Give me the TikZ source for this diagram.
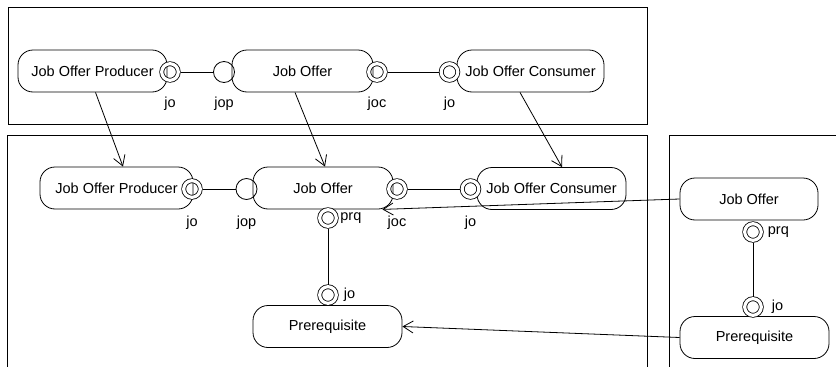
\documentclass[tikz,border=0pt]{standalone}
\usepackage{fontspec}
\setmainfont{Liberation Sans}
\usepackage{tikz}
\usetikzlibrary{positioning, arrows.meta, calc}

\begin{document}
\begin{tikzpicture}[x=1pt, y=-1pt, line width=0.8pt,
    font=\fontsize{14.5}{17}\selectfont,
    comp/.style={draw, rounded corners=15pt, minimum width=149pt,
        minimum height=42pt, inner sep=0pt},
    prov/.style={draw, circle, double, double distance=3.2pt,
        minimum size=16.6pt, inner sep=0pt, outer sep=2.2pt},
    req/.style={draw, circle, minimum size=21pt, inner sep=0pt},
    lbl/.style={inner sep=0pt},
    dep/.style={-{Straight Barb[length=10pt, width=12pt]}}]
\useasboundingbox (0,0) rectangle (836,367);
\clip (0,0) rectangle (836,367);

% frames
\foreach \xa/\ya/\xb/\yb in {8/7/647/124, 7/135/647/390, 669/135/860/390}
    \draw (\xa,\ya) rectangle (\xb,\yb);

% top row
\node[comp] (prodA) at (92.5,71) {Job Offer Producer};
\node[comp, minimum width=141pt] (offerA) at (302.5,71) {Job Offer};
\node[comp, minimum width=147pt] (consA) at (530.5,71) {Job Offer Consumer};

\node[prov] (joA) at (170,72) {};
\node[req] (jopA) at (224,72) {};
\node[prov] (jocA) at (377,72) {};
\node[prov] (joConsA) at (449.5,72) {};
\draw (joA) -- (jopA);
\draw (jocA) -- (joConsA);

\node[lbl, below=14.5pt of joA] (joAl) {jo};
\node[lbl, below=14pt of jopA] (jopAl) {jop};
\node[lbl, below=14.5pt of jocA] (jocAl) {joc};
\node[lbl, below=14.5pt of joConsA] (joConsAl) {jo};

% middle row
\node[comp, minimum width=153pt] (prodB) at (116.5,188) {Job Offer Producer};
\node[comp, minimum width=140pt] (offerB) at (323,188) {Job Offer};
\node[comp] (consB) at (551.5,188.5) {Job Offer Consumer};
\node[comp] (preB) at (327.5,326.5) {Prerequisite};

\node[prov] (joB) at (192,189) {};
\node[req] (jopB) at (246.5,189) {};
\node[prov] (jocB) at (397,189) {};
\node[prov] (joConsB) at (470.5,189) {};
\node[prov] (prqB) at (328,218) {};
\node[prov] (joPreB) at (328,295) {};
\draw (joB) -- (jopB);
\draw (jocB) -- (joConsB);
\draw (prqB) -- (joPreB);

\node[lbl, below=16pt of joB] (joBl) {jo};
\node[lbl, below=15.5pt of jopB] (jopBl) {jop};
\node[lbl, below=16pt of jocB] (jocBl) {joc};
\node[lbl, below=16pt of joConsB] (joConsBl) {jo};
\node[lbl, right=1.5pt of prqB] (prqBl) {prq};
\node[lbl, right=5pt of joPreB] (joPreBl) {jo};

% right frame
\node[comp, minimum width=138pt] (offerC) at (749,199) {Job Offer};
\node[comp] (preC) at (754.5,337.5) {Prerequisite};

\node[prov] (prqC) at (753,232) {};
\node[prov] (joPreC) at (753,307) {};
\draw (prqC) -- (joPreC);

\node[lbl, right=4pt of prqC] (prqCl) {prq};
\node[lbl, right=8pt of joPreC] (joPreCl) {jo};

% dependencies
\draw[dep] ([xshift=3pt]prodA.south) -- ([xshift=6.5pt]prodB.north);
\draw[dep] ([xshift=-7.5pt]offerA.south) -- ([xshift=2pt]offerB.north);
\draw[dep] ([xshift=-10.5pt]consA.south) -- ([xshift=10.5pt]consB.north);
\draw[dep] (offerC.west) -- ([xshift=-11pt]offerB.south east);
\draw[dep] (preC.west) -- (preB.east);

\end{tikzpicture}
\end{document}
